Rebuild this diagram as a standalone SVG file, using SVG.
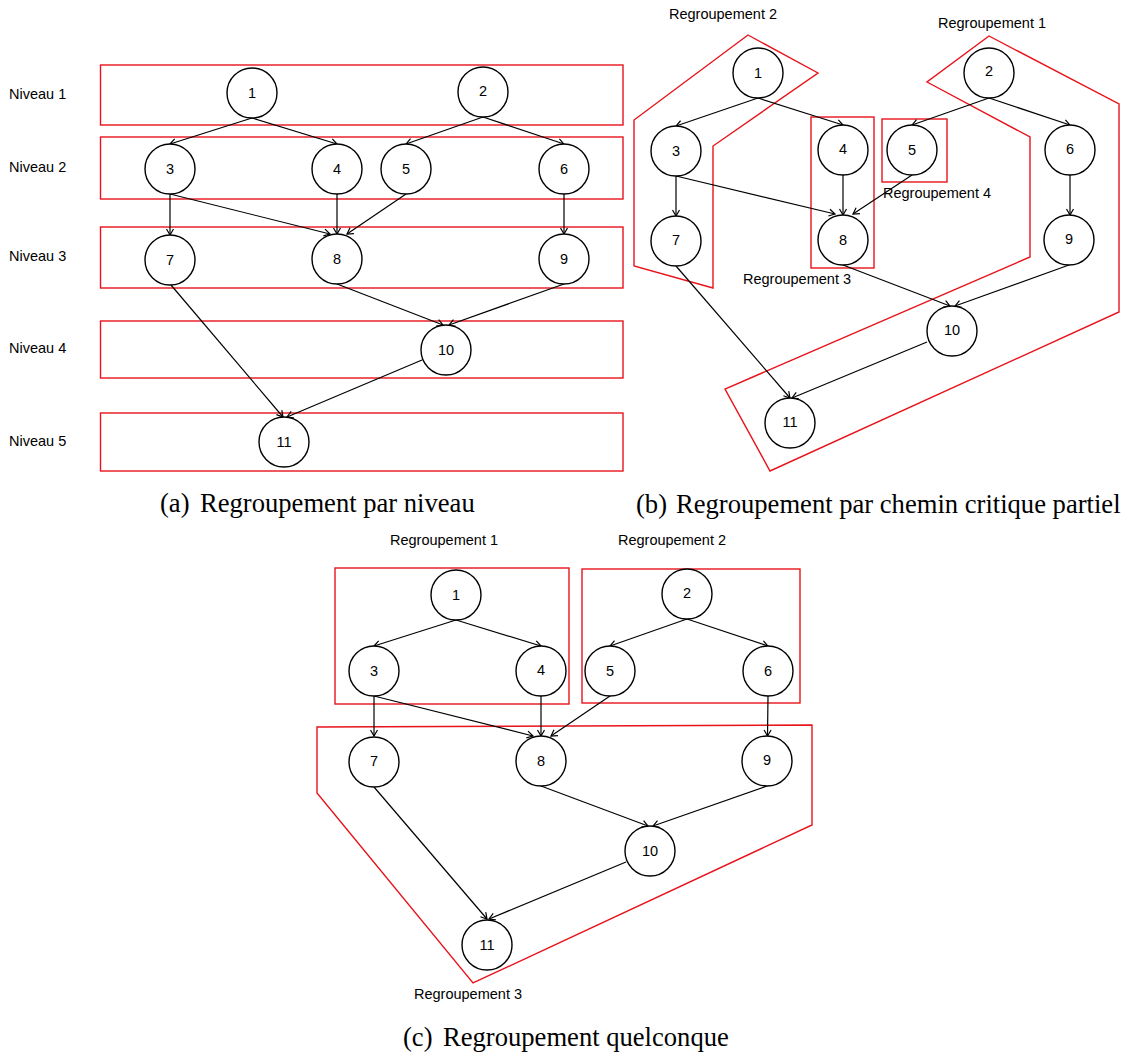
<svg xmlns="http://www.w3.org/2000/svg" width="1123" height="1055" viewBox="0 0 1123 1055">
<defs>
<marker id="arr" viewBox="-8 -5 9 10" refX="0" refY="0" markerWidth="9" markerHeight="10" markerUnits="userSpaceOnUse" orient="auto">
<path d="M-6,-3.5 L0,0 L-6,3.5" fill="none" stroke="#000" stroke-width="1.2"/>
</marker>
</defs>
<style>
.n circle{fill:#fff;stroke:#000;stroke-width:1.4}
.n text,.lbl{font-family:"Liberation Sans",Arial,sans-serif;font-size:14.5px;fill:#000}
.n text{text-anchor:middle}
.grp{fill:none;stroke:#e8131b;stroke-width:1.4}
.e path{fill:none;stroke:#000;stroke-width:1.2;marker-end:url(#arr)}
.cap{font-family:"Liberation Serif","Times New Roman",serif;font-size:26.6px;fill:#000}
</style>
<rect width="1123" height="1055" fill="#fff"/>

<!-- Panel (a) -->
<g id="a-groups">
<rect class="grp" x="100.5" y="65" width="522.5" height="60"/>
<rect class="grp" x="100.5" y="137" width="522.5" height="62"/>
<rect class="grp" x="100.5" y="227" width="522.5" height="61"/>
<rect class="grp" x="100.5" y="321" width="522.5" height="57"/>
<rect class="grp" x="100.5" y="413" width="522.5" height="58"/>
</g>
<g id="a-labels">
<text class="lbl" x="9" y="99">Niveau 1</text>
<text class="lbl" x="9" y="172">Niveau 2</text>
<text class="lbl" x="9" y="261">Niveau 3</text>
<text class="lbl" x="9" y="353">Niveau 4</text>
<text class="lbl" x="9" y="446">Niveau 5</text>
</g>
<g id="a-edges" class="e">
<path d="M252,118 L170,144"/>
<path d="M252,118 L337,144"/>
<path d="M483,117 L406,144"/>
<path d="M483,117 L564,144"/>
<path d="M170,194 L170,235"/>
<path d="M170,194 L330,234"/>
<path d="M337,194 L337,234"/>
<path d="M406,194 L347,234"/>
<path d="M564,194 L564,234"/>
<path d="M171,285 L283,417"/>
<path d="M337,284 L443,325"/>
<path d="M564,284 L449,325"/>
<path d="M422,360 L287,417"/>
</g>
<g id="a-n1" class="n"><circle cx="252" cy="93" r="25"/><text x="252" y="98">1</text></g>
<g id="a-n2" class="n"><circle cx="483" cy="92" r="25"/><text x="483" y="96">2</text></g>
<g id="a-n3" class="n"><circle cx="170" cy="169" r="25"/><text x="170" y="174">3</text></g>
<g id="a-n4" class="n"><circle cx="337" cy="169" r="25"/><text x="337" y="174">4</text></g>
<g id="a-n5" class="n"><circle cx="406" cy="169" r="25"/><text x="406" y="174">5</text></g>
<g id="a-n6" class="n"><circle cx="564" cy="169" r="25"/><text x="564" y="174">6</text></g>
<g id="a-n7" class="n"><circle cx="170" cy="260" r="25"/><text x="170" y="265">7</text></g>
<g id="a-n8" class="n"><circle cx="337" cy="259" r="25"/><text x="337" y="264">8</text></g>
<g id="a-n9" class="n"><circle cx="564" cy="259" r="25"/><text x="564" y="264">9</text></g>
<g id="a-n10" class="n"><circle cx="446" cy="350" r="25"/><text x="446" y="355">10</text></g>
<g id="a-n11" class="n"><circle cx="284" cy="442" r="25"/><text x="284" y="447">11</text></g>
<text class="cap" y="512"><tspan x="160">(a)</tspan><tspan x="200">Regroupement par niveau</tspan></text>

<!-- Panel (b) -->
<g id="b-groups">
<polygon class="grp" points="748,35 818,73 713,146 713,288 634,266 634,120"/>
<polygon class="grp" points="989,36 1119,104 1119,312 770,471 725,389 1030,257 1030,137 927,82"/>
<rect class="grp" x="811" y="117" width="63" height="151"/>
<rect class="grp" x="882" y="119" width="65" height="63"/>
</g>
<g id="b-labels">
<text class="lbl" x="669" y="19">Regroupement 2</text>
<text class="lbl" x="938" y="28">Regroupement 1</text>
<text class="lbl" x="883" y="198">Regroupement 4</text>
<text class="lbl" x="743" y="284">Regroupement 3</text>
</g>
<g id="b-edges" class="e">
<path d="M758,98 L676,126"/>
<path d="M758,98 L843,125"/>
<path d="M989,98 L912,125"/>
<path d="M989,98 L1070,125"/>
<path d="M676,176 L676,216"/>
<path d="M676,176 L835,214"/>
<path d="M843,175 L843,215"/>
<path d="M912,175 L853,214"/>
<path d="M1070,175 L1070,215"/>
<path d="M676,266 L790,398"/>
<path d="M843,265 L950,306"/>
<path d="M1069,265 L955,306"/>
<path d="M927,342 L792,398"/>
</g>
<g id="b-n1" class="n"><circle cx="758" cy="73" r="25"/><text x="758" y="78">1</text></g>
<g id="b-n2" class="n"><circle cx="989" cy="73" r="25"/><text x="989" y="76">2</text></g>
<g id="b-n3" class="n"><circle cx="676" cy="151" r="25"/><text x="676" y="156">3</text></g>
<g id="b-n4" class="n"><circle cx="843" cy="150" r="25"/><text x="843" y="154">4</text></g>
<g id="b-n5" class="n"><circle cx="912" cy="150" r="25"/><text x="912" y="155">5</text></g>
<g id="b-n6" class="n"><circle cx="1070" cy="150" r="25"/><text x="1070" y="154">6</text></g>
<g id="b-n7" class="n"><circle cx="676" cy="241" r="25"/><text x="676" y="245">7</text></g>
<g id="b-n8" class="n"><circle cx="843" cy="240" r="25"/><text x="843" y="245">8</text></g>
<g id="b-n9" class="n"><circle cx="1069" cy="240" r="25"/><text x="1069" y="244">9</text></g>
<g id="b-n10" class="n"><circle cx="952" cy="331" r="25"/><text x="952" y="335">10</text></g>
<g id="b-n11" class="n"><circle cx="790" cy="423" r="25"/><text x="790" y="427">11</text></g>
<text class="cap" y="513"><tspan x="636">(b)</tspan><tspan x="676">Regroupement par chemin critique partiel</tspan></text>

<!-- Panel (c) -->
<g id="c-groups">
<rect class="grp" x="335" y="568" width="234" height="136"/>
<rect class="grp" x="582" y="569" width="218" height="134"/>
<polygon class="grp" points="317,727 812,725 812,825 473,983 317,793"/>
</g>
<g id="c-labels">
<text class="lbl" x="390" y="545">Regroupement 1</text>
<text class="lbl" x="618" y="545">Regroupement 2</text>
<text class="lbl" x="414" y="999">Regroupement 3</text>
</g>
<g id="c-edges" class="e">
<path d="M456,620 L374,646"/>
<path d="M456,620 L541,646"/>
<path d="M687,619 L610,646"/>
<path d="M687,619 L768,646"/>
<path d="M374,696 L374,736"/>
<path d="M374,696 L533,736"/>
<path d="M541,696 L541,736"/>
<path d="M610,696 L551,736"/>
<path d="M768,696 L767.5,736"/>
<path d="M374,787 L487,919"/>
<path d="M541,786 L648,826"/>
<path d="M767,786 L653,826"/>
<path d="M626,862 L489,919"/>
</g>
<g id="c-n1" class="n"><circle cx="456" cy="595" r="25"/><text x="456" y="600">1</text></g>
<g id="c-n2" class="n"><circle cx="687" cy="594" r="25"/><text x="687" y="598">2</text></g>
<g id="c-n3" class="n"><circle cx="374" cy="671" r="25"/><text x="374" y="676">3</text></g>
<g id="c-n4" class="n"><circle cx="541" cy="671" r="25"/><text x="541" y="675">4</text></g>
<g id="c-n5" class="n"><circle cx="610" cy="671" r="25"/><text x="610" y="676">5</text></g>
<g id="c-n6" class="n"><circle cx="768" cy="671" r="25"/><text x="768" y="676">6</text></g>
<g id="c-n7" class="n"><circle cx="374" cy="762" r="25"/><text x="374" y="766">7</text></g>
<g id="c-n8" class="n"><circle cx="541" cy="761" r="25"/><text x="541" y="766">8</text></g>
<g id="c-n9" class="n"><circle cx="767" cy="761" r="25"/><text x="767" y="765">9</text></g>
<g id="c-n10" class="n"><circle cx="650" cy="851" r="25"/><text x="650" y="856">10</text></g>
<g id="c-n11" class="n"><circle cx="487" cy="945" r="25"/><text x="487" y="950">11</text></g>
<text class="cap" y="1046"><tspan x="403">(c)</tspan><tspan x="443">Regroupement quelconque</tspan></text>
</svg>
